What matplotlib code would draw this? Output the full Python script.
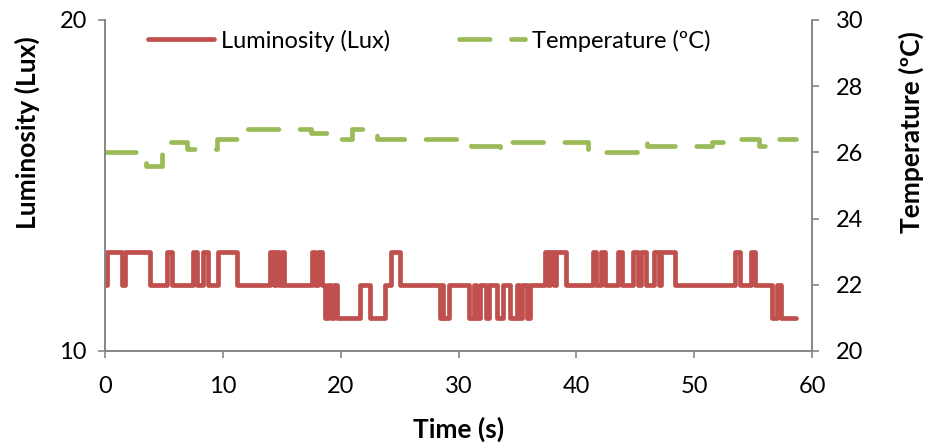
import matplotlib
matplotlib.use("Agg")
import matplotlib.pyplot as plt
from matplotlib.lines import Line2D

# Luminosity change points (time s, lux) - step signal
lux_t = [0.0, 0.2, 1.4, 1.7, 3.8, 5.3, 5.7, 7.5, 7.8, 8.3, 8.7, 9.6, 11.2,
         14.0, 14.3, 14.5, 14.8, 15.0, 15.2, 17.6, 17.8, 18.1, 18.4,
         18.7, 18.9, 19.2, 19.4, 19.7, 21.6, 22.5, 23.8, 24.3, 25.0,
         28.4, 28.6, 28.7, 29.2, 30.9, 31.3, 31.5, 31.8, 32.3, 32.6,
         33.3, 33.8, 34.4, 35.0, 35.1, 35.4, 35.8, 36.1,
         37.3, 37.6, 37.8, 38.1, 38.3, 39.1,
         41.4, 41.7, 42.1, 42.4, 43.5, 43.9, 44.8, 45.2, 45.5, 45.9,
         46.6, 47.0, 47.2, 48.4, 53.5, 53.9, 54.8, 55.2,
         56.6, 57.0, 57.4, 58.6]
lux_v = [12, 13, 12, 13, 12, 13, 12, 13, 12, 13, 12, 13, 12,
         13, 12, 13, 12, 13, 12, 13, 12, 13, 12,
         11, 12, 11, 12, 11, 12, 11, 12, 13, 12,
         11, 12, 11, 12, 11, 12, 11, 12, 11, 12,
         11, 12, 11, 12, 11, 12, 11, 12,
         13, 12, 13, 12, 13, 12,
         13, 12, 13, 12, 13, 12, 13, 12, 13, 12,
         13, 12, 13, 12, 13, 12, 13, 12,
         11, 12, 11, 11]

# Temperature change points (time s, ºC)
temp_t = [0.0, 3.5, 4.8, 7.0, 9.5, 12.0, 17.5, 19.4, 21.0, 23.1, 31.1,
          33.5, 34.4, 41.0, 45.2, 46.0, 51.5, 52.8, 55.5, 57.1, 58.6]
temp_v = [26.0, 25.6, 26.3, 26.1, 26.4, 26.7, 26.6, 26.4, 26.7, 26.4, 26.2,
          26.1, 26.3, 26.0, 26.3, 26.2, 26.3, 26.4, 26.2, 26.4, 26.4]

plt.rcParams['font.family'] = ['Lato', 'DejaVu Sans']
red = "#C0504D"
green = "#9BBB59"
axcol = "#868686"
LW = 3.4

fig = plt.figure(figsize=(9.26, 4.44), dpi=100)
ax1 = fig.add_axes([0.1134, 0.2095, 0.7635, 0.7455])
ax2 = ax1.twinx()

ax1.plot(lux_t, lux_v, drawstyle="steps-post", color=red, lw=LW,
         solid_joinstyle="round", solid_capstyle="round")
ax2.plot(temp_t, temp_v, drawstyle="steps-post", color=green, lw=LW,
         dashes=(6.5, 4.5), dash_capstyle="round", dash_joinstyle="round")

ax1.set_xlim(0, 60)
ax1.set_ylim(10, 20)
ax2.set_ylim(20, 30)
ax1.set_xticks(range(0, 61, 10))
ax1.set_yticks([10, 20])
ax2.set_yticks(range(20, 31, 2))

for ax in (ax1, ax2):
    ax.spines["top"].set_visible(False)
    for s in ("left", "right", "bottom"):
        ax.spines[s].set_color(axcol)
        ax.spines[s].set_linewidth(1.2)
    ax.tick_params(colors=axcol, labelcolor="black", labelsize=17,
                   length=5, width=1.2, pad=8)
ax1.tick_params(axis="x", pad=13)
ax2.tick_params(axis="y", pad=12)

ax1.set_xlabel("Time (s)", fontsize=19, fontweight="bold", labelpad=14)
ax1.set_ylabel("Luminosity (Lux)", fontsize=19, fontweight="bold")
ax2.set_ylabel("Temperature (ºC)", fontsize=19, fontweight="bold",
               rotation=90)
ax1.yaxis.set_label_coords(-0.092, 0.66)
ax2.yaxis.set_label_coords(1.122, 0.66)

handles = [Line2D([], [], color=red, lw=LW, solid_capstyle="round"),
           Line2D([], [], color=green, lw=LW, dashes=(6.5, 4.5),
                  dash_capstyle="round")]
ax1.legend(handles, ["Luminosity (Lux)", "Temperature (ºC)"], ncol=2,
           frameon=False, fontsize=17, loc="upper left",
           bbox_to_anchor=(0.031, 1.035), handlelength=2.8,
           handletextpad=0.3, columnspacing=2.9)

fig.savefig("out.png", dpi=100)
